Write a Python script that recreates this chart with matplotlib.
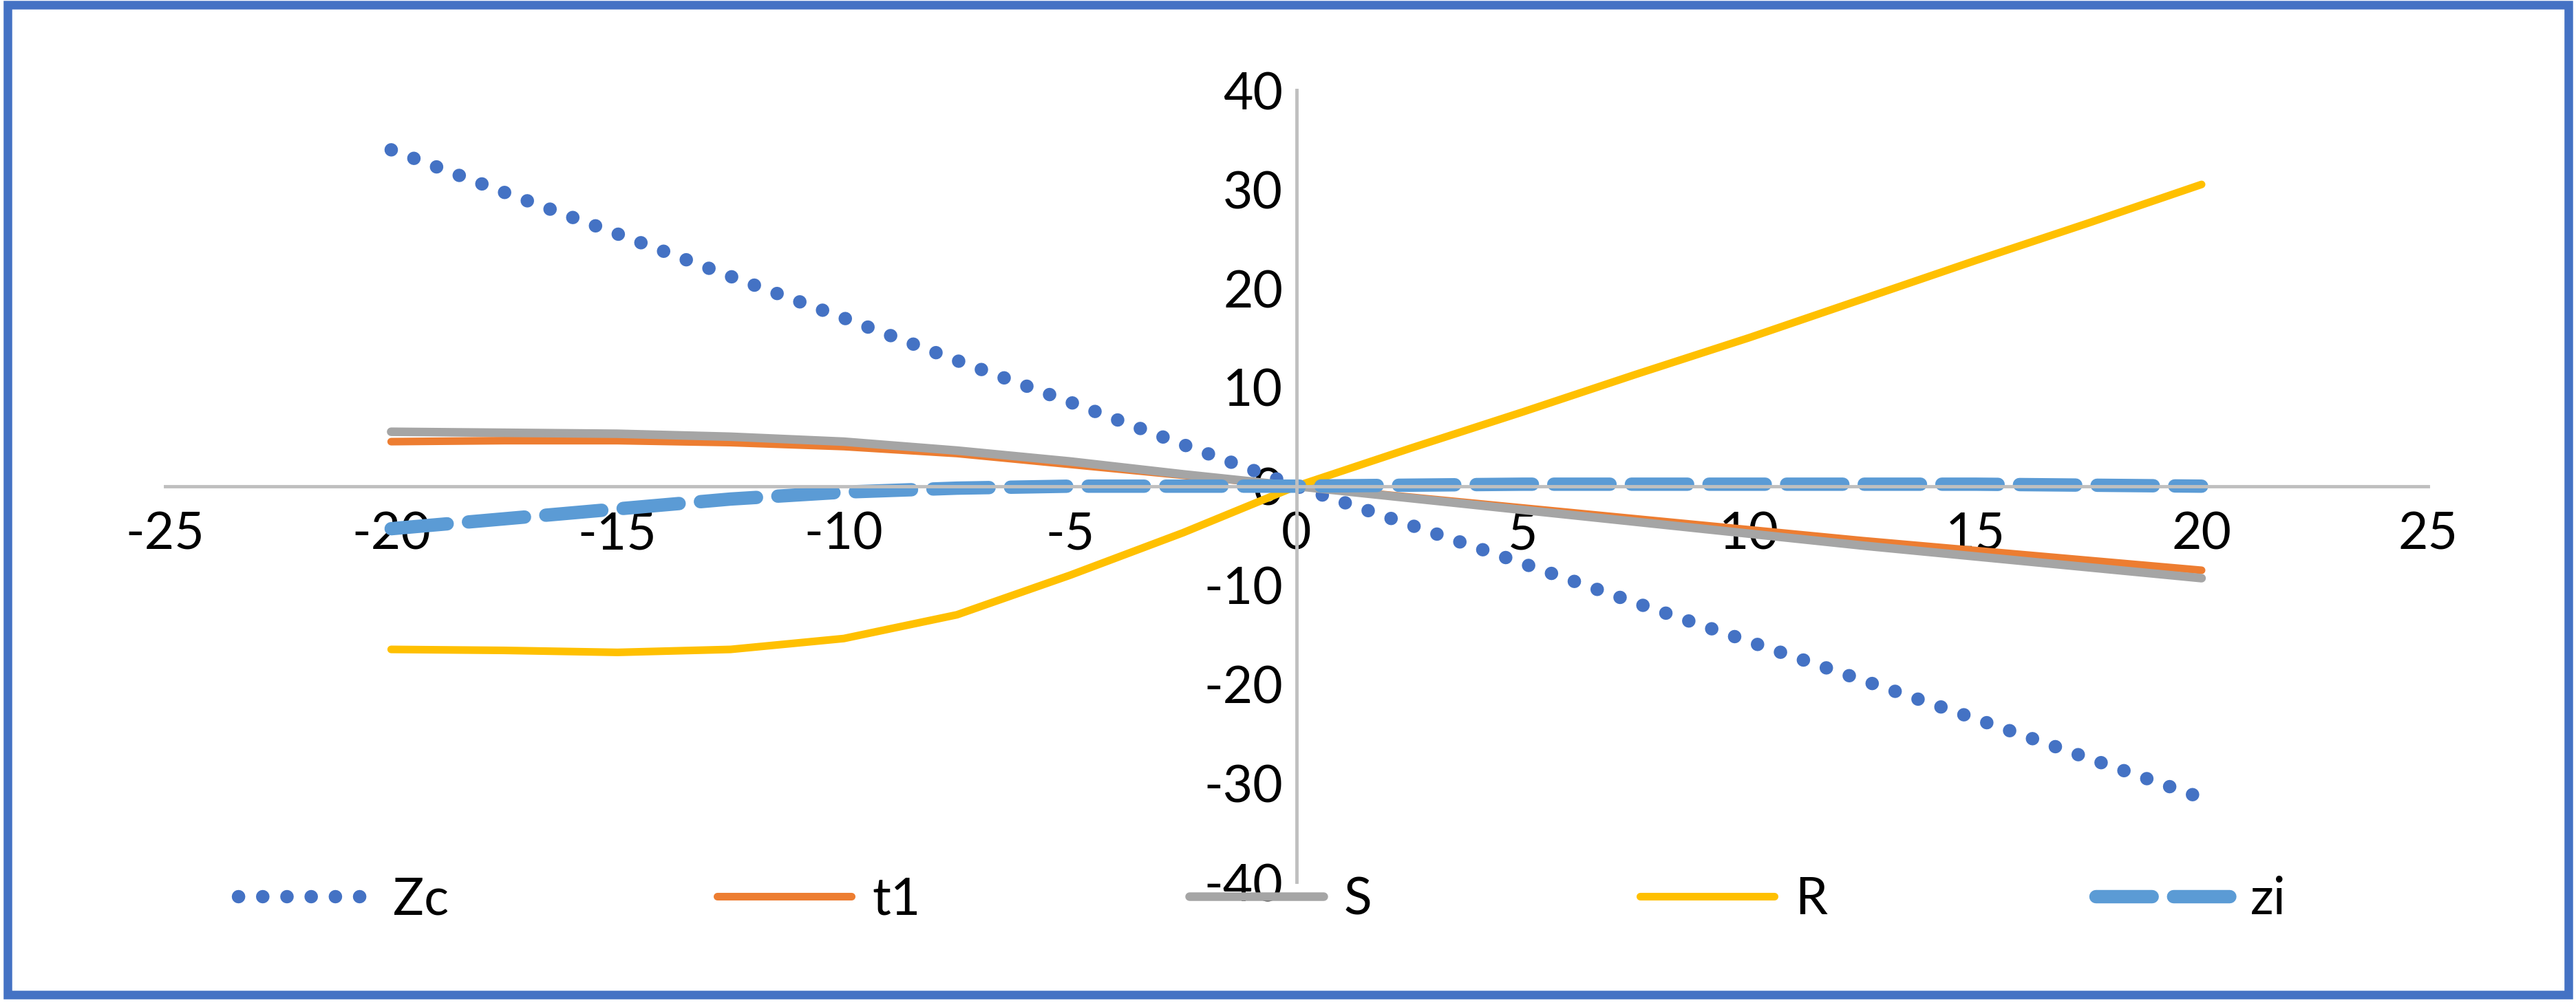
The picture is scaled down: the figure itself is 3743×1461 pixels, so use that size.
import matplotlib.pyplot as plt
from matplotlib.patches import Rectangle

x = [-20, -17.5, -15, -12.5, -10, -7.5, -5, -2.5, 0, 2.5, 5, 7.5, 10, 12.5, 15, 17.5, 20]
zc = [34, 29.7, 25.5, 21.2, 17, 12.7, 8.5, 4.2, 0, -3.9, -7.8, -11.8, -15.7, -19.6, -23.5, -27.5, -31.5]
t1 = [4.5, 4.6, 4.6, 4.4, 4.0, 3.3, 2.2, 1.1, 0, -1.1, -2.2, -3.3, -4.4, -5.5, -6.5, -7.5, -8.5]
s = [5.5, 5.4, 5.3, 5.0, 4.5, 3.6, 2.5, 1.2, 0, -1.2, -2.4, -3.6, -4.8, -6.0, -7.1, -8.2, -9.3]
r = [-16.5, -16.6, -16.8, -16.5, -15.4, -13.0, -9.0, -4.7, 0, 3.8, 7.5, 11.3, 15.0, 18.9, 22.8, 26.6, 30.5]
zi = [-4.3, -3.3, -2.3, -1.3, -0.6, -0.2, 0, 0, 0, 0.1, 0.2, 0.2, 0.2, 0.2, 0.2, 0.1, 0]

names = ["Zc", "t1", "S", "R", "zi"]
xticks = [-25, -20, -15, -10, -5, 0, 5, 10, 15, 20, 25]
yticks = [-40, -30, -20, -10, 0, 10, 20, 30, 40]

plt.rcParams['font.family'] = ['Lato', 'DejaVu Sans']
plt.rcParams['axes.unicode_minus'] = False

fig = plt.figure(figsize=(37.43, 14.61), dpi=100)
ax = fig.add_axes([0.064, 0.1225, 0.8785, 0.7875])

ax.plot(x, zc, color='#4472C4', lw=14, linestyle=(0, (0.01, 1.8)), dash_capstyle='round', label=names[0])
ax.plot(x, t1, color='#ED7D31', lw=8, solid_capstyle='round', label=names[1])
ax.plot(x, s, color='#A5A5A5', lw=9, solid_capstyle='round', label=names[2])
ax.plot(x, r, color='#FFC000', lw=8, solid_capstyle='round', label=names[3])
ax.plot(x, zi, color='#5B9BD5', lw=14, linestyle=(0, (4.2, 1.6)), dash_capstyle='round', label=names[4])

ax.set_xlim(-25, 25)
ax.set_ylim(-40, 40)
ax.set_xticks(xticks)
ax.set_yticks(yticks)
for side in ['top', 'right']:
    ax.spines[side].set_visible(False)
for side in ['left', 'bottom']:
    ax.spines[side].set_position(('data', 0))
    ax.spines[side].set_color('#BFBFBF')
    ax.spines[side].set_linewidth(3.5)
ax.tick_params(length=0, labelsize=54)
ax.tick_params(axis='x', pad=26)
ax.tick_params(axis='y', pad=14)

ax.legend(loc='lower center', bbox_to_anchor=(0.49, 0.035), bbox_transform=fig.transFigure,
          ncol=5, frameon=False, fontsize=54, handlelength=2.6, columnspacing=5.2,
          handletextpad=0.4)

fig.patches.append(Rectangle((0.003, 0.01), 0.994, 0.985, transform=fig.transFigure,
                             fill=False, edgecolor='#4472C4', linewidth=9))

fig.savefig('out.png', dpi=100)
